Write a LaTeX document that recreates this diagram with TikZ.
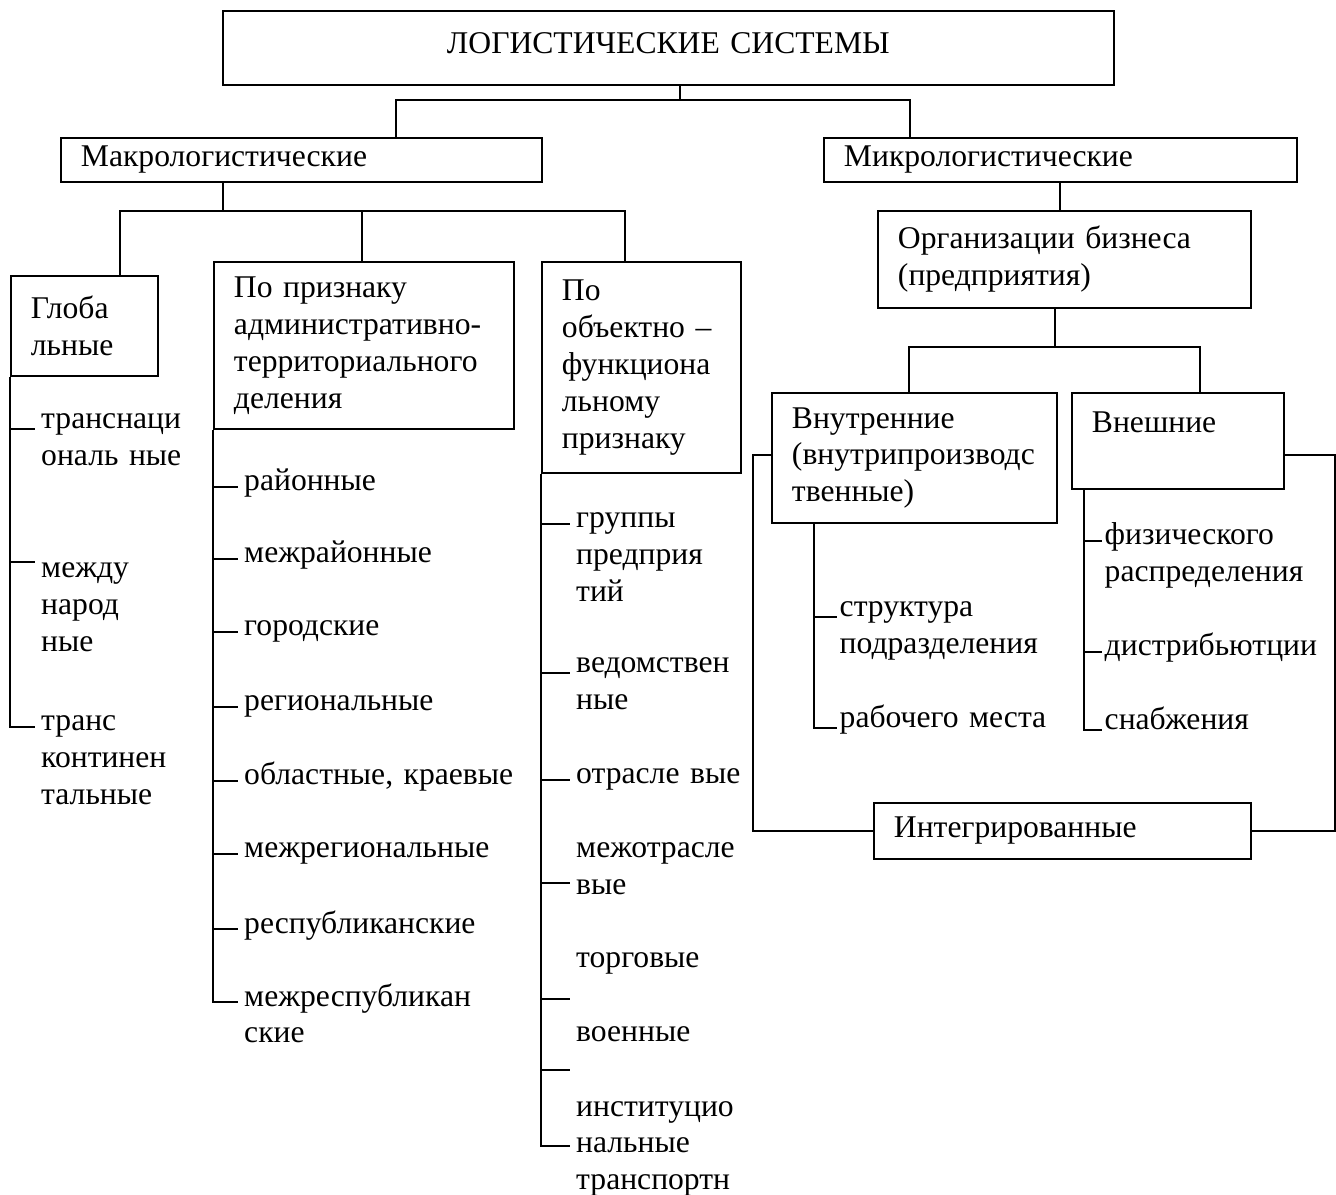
\documentclass[tikz,border=0pt]{standalone}
\usepackage{fontspec}
\setmainfont{Liberation Serif}

\begin{document}
\begin{tikzpicture}[x=0.02cm, y=-0.02cm, line width=1.1pt,
  every node/.style={font=\fontsize{18}{21}\selectfont},
  box/.style={rectangle, draw, anchor=north west, align=left, inner xsep=0.4cm, inner ysep=0pt},
  leaf/.style={anchor=base west, align=left, text width=6cm, inner xsep=3pt, inner ysep=0pt},
]
\useasboundingbox (0,0) rectangle (1336,1195);
\node[box, align=center, text width=17.02cm, text depth=0.2cm, minimum height=1.48cm] (sys) at (222,10) {ЛОГИСТИЧЕСКИЕ СИСТЕМЫ};
\node[box, text width=8.82cm, minimum height=0.88cm] (macro) at (60,137) {Макрологистические};
\node[box, text width=8.66cm, minimum height=0.88cm] (micro) at (823,137) {Микрологистические};
\node[box, text width=2.14cm, minimum height=2.0cm] (glob) at (10,275) {Глоба\\льные};
\node[box, text width=5.2cm, minimum height=3.34cm] (admin) at (213,261) {По признаку\\административно-\\территориального\\деления};
\node[box, text width=3.18cm, minimum height=4.22cm] (func) at (541,261) {По\\объектно –\\функциона\\льному\\признаку};
\node[box, text width=6.66cm, minimum height=1.94cm] (org) at (877,210) {Организации бизнеса\\(предприятия)};
\node[box, text width=4.9cm, minimum height=2.6cm] (inner) at (771,392) {Внутренние\\(внутрипроизводс\\твенные)};
\node[box, text width=3.44cm, minimum height=1.92cm] (outer) at (1071,392) {Внешние\\\mbox{}};
\node[box, text width=6.74cm, minimum height=1.12cm] (integr) at (873,802) {Интегрированные};

\node[leaf] (g1) at (35,429) {транснаци\\ональ ные};
\node[leaf] (g2) at (35,578) {между\\народ\\ные};
\node[leaf] (g3) at (35,731) {транс\\континен\\тальные};

\node[leaf] (a1) at (238,491) {районные};
\node[leaf] (a2) at (238,563) {межрайонные};
\node[leaf] (a3) at (238,636) {городские};
\node[leaf] (a4) at (238,711) {региональные};
\node[leaf] (a5) at (238,785) {областные, краевые};
\node[leaf] (a6) at (238,858) {межрегиональные};
\node[leaf] (a7) at (238,933) {республиканские};
\node[leaf] (a8) at (238,1006) {межреспубликан\\ские};

\node[leaf] (f1) at (570,528) {группы\\предприя\\тий};
\node[leaf] (f2) at (570,673) {ведомствен\\ные};
\node[leaf] (f3) at (570,784) {отрасле вые};
\node[leaf] (f4) at (570,858) {межотрасле\\вые};
\node[leaf] (f5) at (570,968) {торговые};
\node[leaf] (f6) at (570,1041) {военные};
\node[leaf] (f7) at (570,1116) {институцио\\нальные\\транспортн};

\node[leaf, inner xsep=1pt] (i1) at (837,617) {структура\\подразделения};
\node[leaf, inner xsep=1pt] (i2) at (837,728) {рабочего места};
\node[leaf, inner xsep=1pt] (o1) at (1102,545) {физического\\распределения};
\node[leaf, inner xsep=1pt] (o2) at (1102,656) {дистрибьютции};
\node[leaf, inner xsep=1pt] (o3) at (1102,730) {снабжения};

\coordinate (hub0) at (680,100);
\coordinate (hubL) at (396,100);
\coordinate (hubR) at (910,100);
\draw (sys.south -| hub0) -- (hub0);
\draw (macro.north -| hubL) -- (hubL) -- (hubR) -- (micro.north -| hubR);

\coordinate (mac0) at (223,211);
\coordinate (macL) at (120,211);
\coordinate (macM) at (362,211);
\coordinate (macR) at (625,211);
\draw (macro.south -| mac0) -- (mac0);
\draw (glob.north -| macL) -- (macL) -- (macR) -- (func.north -| macR);
\draw (macM) -- (admin.north -| macM);

\draw (micro.south) -- (micro.south |- org.north);
\coordinate (org0) at (1055,347);
\coordinate (orgL) at (909,347);
\coordinate (orgR) at (1200,347);
\draw (org.south -| org0) -- (org0);
\draw (inner.north -| orgL) -- (orgL) -- (orgR) -- (outer.north -| orgR);

\draw ([yshift=0.06cm]inner.west) -- ++(-18,0) |- (integr.west);
\draw ([yshift=-0.28cm]outer.east) -- ++(50,0) |- (integr.east);

\draw (glob.south west) |- (g3.mid west);
\draw (glob.west |- g1.base west) -- (g1.base west);
\draw (glob.west |- g2.north west) -- (g2.north west);

\draw (admin.south west) |- (a8.mid west);
\draw (admin.west |- a1.mid west) -- (a1.mid west);
\draw (admin.west |- a2.mid west) -- (a2.mid west);
\draw (admin.west |- a3.mid west) -- (a3.mid west);
\draw (admin.west |- a4.mid west) -- (a4.mid west);
\draw (admin.west |- a5.mid west) -- (a5.mid west);
\draw (admin.west |- a6.mid west) -- (a6.mid west);
\draw (admin.west |- a7.mid west) -- (a7.mid west);

\coordinate (ft4) at (570,883);
\coordinate (ft5) at (570,999);
\coordinate (ft6) at (570,1070);
\coordinate (ft7) at (570,1146);
\draw (func.south west) |- (ft7);
\draw (func.west |- f1.mid west) -- (f1.mid west);
\draw (func.west |- f2.base west) -- (f2.base west);
\draw (func.west |- f3.mid west) -- (f3.mid west);
\draw (func.west |- ft4) -- (ft4);
\draw (func.west |- ft5) -- (ft5);
\draw (func.west |- ft6) -- (ft6);

\draw ([xshift=0.86cm]inner.south west) |- (i2.base west);
\draw ([xshift=0.86cm]inner.south west |- i1.base west) -- (i1.base west);

\draw ([xshift=0.26cm]outer.south west) |- (o3.base west);
\draw ([xshift=0.26cm]outer.south west |- o1.mid west) -- (o1.mid west);
\draw ([xshift=0.26cm]outer.south west |- o2.mid west) -- (o2.mid west);
\end{tikzpicture}
\end{document}
